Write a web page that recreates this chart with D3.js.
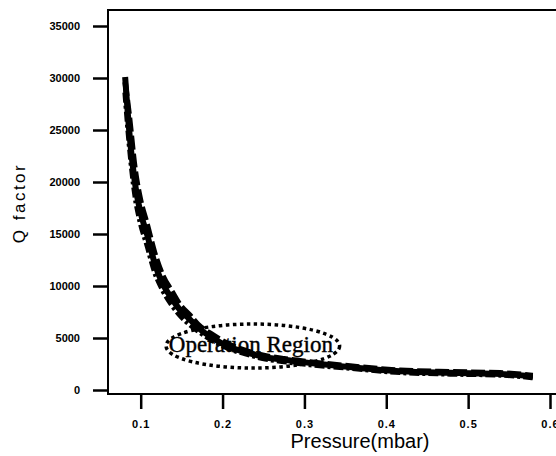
<!DOCTYPE html>
<html>
<head>
<meta charset="utf-8">
<script src="https://cdn.jsdelivr.net/npm/d3@7"></script>
<style>
  body { margin: 0; background: #fff; }
</style>
</head>
<body>
<div id="chart"></div>
<script>
// pressure (mbar)
var pressure = [0.081, 0.086, 0.093, 0.100, 0.108, 0.117, 0.127, 0.138, 0.148, 0.160,
                0.170, 0.188, 0.209, 0.230, 0.249, 0.275, 0.307, 0.356, 0.417, 0.478, 0.539, 0.579];

// three overlapping measurement runs
var qRunA = [30100, 24900, 19900, 17000, 14900, 12200, 10200, 8800, 7700, 6800,
             6000, 5000, 4100, 3600, 3200, 2900, 2600, 2200, 1800, 1650, 1550, 1300];
var qRunB = [29600, 26400, 21300, 18200, 15900, 13200, 11000, 9500, 8200, 7200,
             6300, 5300, 4350, 3750, 3350, 3000, 2700, 2300, 1900, 1750, 1650, 1400];
var qRunC = [28600, 23800, 18800, 16000, 13900, 11400, 9600, 8200, 7200, 6300,
             5700, 4750, 3950, 3450, 3050, 2750, 2450, 2100, 1700, 1550, 1450, 1200];

var xTicks = [0.1, 0.2, 0.3, 0.4, 0.5, 0.6];
var yTicks = [0, 5000, 10000, 15000, 20000, 25000, 30000, 35000];

// "Operation Region" annotation: centre and half-widths in data units
var regionCentre = [0.237, 4230];
var regionHalf = [0.106, 2115];
var regionLabel = "Operation Region";

var width = 556;
var height = 456;

var frame = { left: 108, right: 556, top: 10, bottom: 394 };

var svg = d3.select("#chart")
    .append("svg")
        .attr("width", width)
        .attr("height", height)
        .style("font-family", '"Liberation Sans", Arial, sans-serif');

var xScale = d3.scaleLinear()
        .domain([0.1, 0.6])
        .range([140.7, 550]);

var yScale = d3.scaleLinear()
        .domain([0, 35000])
        .range([390, 26]);

// frame lines
svg.append("path")
    .attr("d", "M" + frame.right + "," + frame.top + "H" + frame.left +
               "V" + frame.bottom + "H" + frame.right)
    .attr("fill", "none")
    .attr("stroke", "#000")
    .attr("stroke-width", 2);

var xAxis = d3.axisBottom(xScale)
        .tickValues(xTicks)
        .tickSize(15)
        .tickPadding(11)
        .tickFormat(d3.format(".1f"));

var yAxis = d3.axisLeft(yScale)
        .tickValues(yTicks)
        .tickSize(15)
        .tickPadding(13)
        .tickFormat(d3.format("d"));

var gx = svg.append("g")
    .attr("transform", "translate(0," + frame.bottom + ")")
    .call(xAxis);

var gy = svg.append("g")
    .attr("transform", "translate(" + frame.left + ",0)")
    .call(yAxis);

[gx, gy].forEach(function(g){
    g.select(".domain").remove();
    g.selectAll(".tick line")
        .attr("stroke", "#000")
        .attr("stroke-width", 2.5);
    g.selectAll(".tick text")
        .attr("fill", "#000")
        .attr("font-size", "11px")
        .attr("font-weight", "bold")
        .attr("font-family", '"Liberation Sans", Arial, sans-serif');
});

gx.selectAll(".tick text").attr("letter-spacing", "1px");

// axis titles
svg.append("text")
    .attr("x", 360)
    .attr("y", 448)
    .attr("text-anchor", "middle")
    .attr("font-size", "20px")
    .text("Pressure(mbar)");

svg.append("text")
    .attr("transform", "translate(25,203) rotate(-90)")
    .attr("text-anchor", "middle")
    .attr("font-size", "17px")
    .attr("letter-spacing", "2.5px")
    .text("Q factor");

// annotation
var cx = xScale(regionCentre[0]);
var cy = yScale(regionCentre[1]);

svg.append("ellipse")
    .attr("cx", cx)
    .attr("cy", cy)
    .attr("rx", xScale(regionCentre[0] + regionHalf[0]) - cx)
    .attr("ry", cy - yScale(regionCentre[1] + regionHalf[1]))
    .attr("fill", "none")
    .attr("stroke", "#000")
    .attr("stroke-width", 3.5)
    .attr("stroke-dasharray", "3.5 3.5");

svg.append("text")
    .attr("x", cx - 2)
    .attr("y", cy + 6)
    .attr("text-anchor", "middle")
    .attr("font-family", '"Liberation Serif", "Times New Roman", serif')
    .attr("font-size", "23px")
    .attr("stroke", "#000")
    .attr("stroke-width", 0.4)
    .text(regionLabel);

// curves
var runs = [
    { values: qRunA, dash: null, w: 6 },
    { values: qRunB, dash: "14 4", w: 5.5 },
    { values: qRunC, dash: "10 3 3 3", w: 5.5 }
];

var line = d3.line()
    .x(function(d){ return xScale(d[0]); })
    .y(function(d){ return yScale(d[1]); })
    .curve(d3.curveMonotoneX);

svg.selectAll(".run")
    .data(runs)
    .enter()
    .append("path")
    .attr("class", "run")
    .attr("d", function(r){
        return line(pressure.map(function(p, i){ return [p, r.values[i]]; }));
    })
    .attr("fill", "none")
    .attr("stroke", "#000")
    .attr("stroke-width", function(r){ return r.w; })
    .attr("stroke-dasharray", function(r){ return r.dash; })
    .attr("stroke-linejoin", "round");
</script>
</body>
</html>
